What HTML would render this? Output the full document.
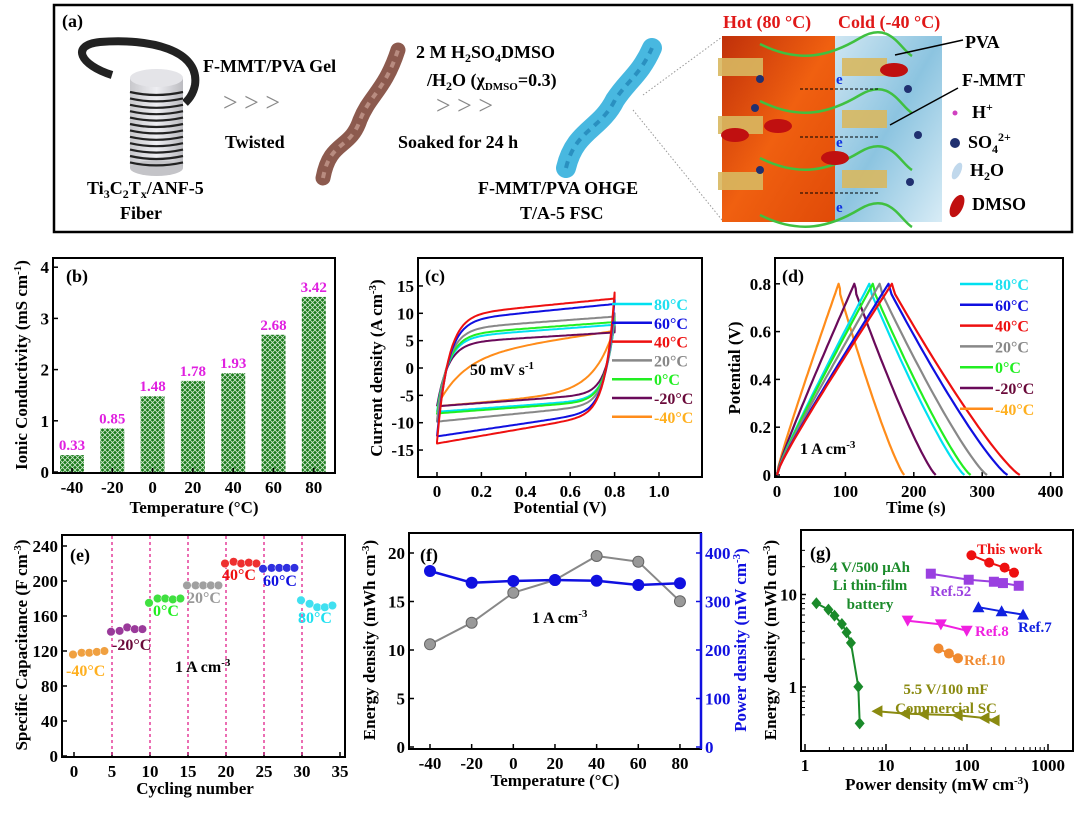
<!DOCTYPE html>
<html><head><meta charset="utf-8">
<style>
html,body{margin:0;padding:0;background:#fff;}
svg text{font-family:"Liberation Serif",serif;font-weight:bold;}
</style></head>
<body>
<svg id="s" width="1079" height="809" viewBox="0 0 1079 809" xmlns="http://www.w3.org/2000/svg">
<defs>
<pattern id="hatch" width="5" height="5" patternUnits="userSpaceOnUse">
<rect width="5" height="5" fill="#197a19"/>
<path d="M0,0L5,5M5,0L0,5" stroke="#cfe8cf" stroke-width="0.8"/>
</pattern>
<linearGradient id="cyl" x1="0" x2="1"><stop offset="0" stop-color="#c8c8cc"/><stop offset="0.5" stop-color="#eeeef2"/><stop offset="1" stop-color="#bbbbc0"/></linearGradient>
<linearGradient id="hot" x1="0" y1="0" x2="1" y2="1"><stop offset="0" stop-color="#c0300a"/><stop offset="0.5" stop-color="#f06010"/><stop offset="1" stop-color="#e04a08"/></linearGradient>
<linearGradient id="cold" x1="0" y1="0" x2="1" y2="1"><stop offset="0" stop-color="#cfe6f2"/><stop offset="0.5" stop-color="#8cc4e0"/><stop offset="1" stop-color="#d8ecf6"/></linearGradient>
</defs>
<!-- panel a -->
<rect x="54" y="5" width="1018" height="227" fill="none" stroke="#000" stroke-width="2.5"/>
<text x="62" y="27" font-size="18">(a)</text>
<path d="M112,75 C80,65 70,45 100,42 C150,38 200,50 195,85 C193,95 188,100 185,103" fill="none" stroke="#222" stroke-width="8"/>
<rect x="130" y="78" width="53" height="90" fill="url(#cyl)"/>
<ellipse cx="156.5" cy="78" rx="26.5" ry="9" fill="#e4e4e8"/>
<ellipse cx="156.5" cy="168" rx="26.5" ry="8" fill="#c4c4c8"/>
<g id="coil" stroke="#222" stroke-width="2.2" fill="none"></g>
<path d="M323,178 C330,140 350,150 360,120 C370,95 385,90 398,50" fill="none" stroke="#8c5a4e" stroke-width="15" stroke-linecap="round"/>
<path d="M323,178 C330,140 350,150 360,120 C370,95 385,90 398,50" fill="none" stroke="#b88c80" stroke-width="4" stroke-dasharray="6 6"/>
<path d="M566,168 C575,130 600,130 615,100 C628,80 640,75 652,48" fill="none" stroke="#48b8e0" stroke-width="20" stroke-linecap="round"/>
<path d="M566,168 C575,130 600,130 615,100 C628,80 640,75 652,48" fill="none" stroke="#2a90c0" stroke-width="4" stroke-dasharray="7 6"/>
<line x1="643" y1="95" x2="722" y2="37" stroke="#999" stroke-dasharray="1.5 2"/>
<line x1="633" y1="110" x2="722" y2="220" stroke="#999" stroke-dasharray="1.5 2"/>
<g font-size="18">
<text x="203" y="72">F-MMT/PVA Gel</text>
<text x="223" y="111" font-size="26" font-weight="normal" fill="#888" style="font-weight:normal">&gt; &gt; &gt;</text>
<text x="225" y="148">Twisted</text>
<text x="87" y="194">Ti<tspan font-size="12" dy="4">3</tspan><tspan dy="-4">C</tspan><tspan font-size="12" dy="4">2</tspan><tspan dy="-4">T</tspan><tspan font-size="12" dy="4">x</tspan><tspan dy="-4">/ANF-5</tspan></text>
<text x="120" y="219">Fiber</text>
<text x="416" y="58">2 M H<tspan font-size="12" dy="4">2</tspan><tspan dy="-4">SO</tspan><tspan font-size="12" dy="4">4</tspan><tspan dy="-4">DMSO</tspan></text>
<text x="427" y="86">/H<tspan font-size="12" dy="4">2</tspan><tspan dy="-4">O (χ</tspan><tspan font-size="11" dy="4">DMSO</tspan><tspan dy="-4">=0.3)</tspan></text>
<text x="436" y="114" font-size="26" fill="#888" style="font-weight:normal">&gt; &gt; &gt;</text>
<text x="398" y="148">Soaked  for 24 h</text>
<text x="478" y="194">F-MMT/PVA OHGE</text>
<text x="520" y="219">T/A-5 FSC</text>
<text x="723" y="28" fill="#e01818">Hot (80 °C)</text>
<text x="838" y="28" fill="#e01818">Cold (-40 °C)</text>
<text x="965" y="48">PVA</text>
<text x="962" y="86">F-MMT</text>
<text x="972" y="118">H<tspan font-size="12" dy="-7">+</tspan></text>
<text x="968" y="148">SO<tspan font-size="12" dy="5">4</tspan><tspan font-size="12" dy="-12">2+</tspan></text>
<text x="970" y="176">H<tspan font-size="12" dy="4">2</tspan><tspan dy="-4">O</tspan></text>
<text x="972" y="210">DMSO</text>
</g>
<rect x="722" y="36" width="113" height="186" fill="url(#hot)"/>
<rect x="835" y="36" width="107" height="186" fill="url(#cold)"/>
<g id="illus"></g>
<circle cx="955" cy="113" r="2.5" fill="#d040c0"/>
<circle cx="955" cy="143" r="5" fill="#203070"/>
<ellipse cx="957" cy="171" rx="4" ry="9" fill="#c0d8ec" transform="rotate(25 957 171)"/>
<ellipse cx="957" cy="206" rx="6" ry="12" fill="#c01010" transform="rotate(25 957 206)"/>
<line x1="895" y1="55" x2="963" y2="40" stroke="#000" stroke-width="1.5"/>
<line x1="890" y1="125" x2="958" y2="88" stroke="#000" stroke-width="1.5"/>
<g id="charts"></g>
</svg>
<script>
var NS="http://www.w3.org/2000/svg";
var root=document.getElementById('charts');
function el(tag,attrs,parent){var e=document.createElementNS(NS,tag);for(var k in attrs)e.setAttribute(k,attrs[k]);(parent||root).appendChild(e);return e;}
function txt(x,y,s,o){o=o||{};var a={x:x,y:y,'font-size':o.fs||17,fill:o.c||'#000'};if(o.a)a['text-anchor']=o.a;if(o.t)a.transform=o.t;var e=el('text',a,o.p);e.innerHTML=s;return e;}
function poly(pts,c,w,p){el('polyline',{points:pts.map(function(q){return q[0].toFixed(1)+','+q[1].toFixed(1)}).join(' '),fill:'none',stroke:c,'stroke-width':w||2,'stroke-linejoin':'round'},p);}
// coil
var coil=document.getElementById('coil');
for(var i=0;i<12;i++){var y=92+i*6.4;el('path',{d:'M130,'+y+' Q156,'+(y+6)+' 183,'+y},coil);}
// illus
var il=document.getElementById('illus');
[[748,68],[872,68],[748,126],[872,120],[748,182],[872,180]].forEach(function(p){el('rect',{x:p[0]-30,y:p[1]-10,width:45,height:18,fill:'#d8b860',opacity:0.9},il);});
for(var k=0;k<4;k++){var y0=44+k*57;el('path',{d:'M760,'+y0+' C800,'+(y0+20)+' 830,'+(y0+12)+' 860,'+(y0-6)+' S900,'+(y0+5)+' 912,'+(y0+12),fill:'none',stroke:'#40c040','stroke-width':2.5},il);}
[[800,89],[800,137],[800,193]].forEach(function(p){el('line',{x1:p[0],y1:p[1],x2:p[0]+78,y2:p[1],stroke:'#000','stroke-dasharray':'3 2'},il);});
[[760,79],[755,108],[760,170],[908,89],[918,135],[910,182]].forEach(function(p){el('circle',{cx:p[0],cy:p[1],r:4,fill:'#203070'},il);});
[[894,70],[835,158],[735,135],[778,126]].forEach(function(p){el('ellipse',{cx:p[0],cy:p[1],rx:14,ry:7,fill:'#c01010'},il);});
txt(836,84,'e',{fs:15,c:'#1030e0',p:il});txt(836,147,'e',{fs:15,c:'#1030e0',p:il});txt(836,212,'e',{fs:15,c:'#1030e0',p:il});
function frame(x0,y0,x1,y1){el('rect',{x:x0,y:y0,width:x1-x0,height:y1-y0,fill:'none',stroke:'#000','stroke-width':2});}
function tickX(x,y,lab,len,c){el('line',{x1:x,y1:y,x2:x,y2:y-(len||5),stroke:c||'#000','stroke-width':1.5});txt(x,y+20,lab,{a:'middle',c:c});}
function tickY(x,y,lab,c,right){el('line',{x1:x,y1:y,x2:right?x-5:x+5,y2:y,stroke:c||'#000','stroke-width':1.5});txt(right?x+4:x-4,y+6,lab,{a:right?'start':'end',c:c});}
var TC={80:'#00e0f0',60:'#1010e0',40:'#ee1010',20:'#888888',0:'#22ee22','-20':'#6a0a5a','-40':'#ff8c1a'};
var TT={80:'#20e0f0',60:'#1010e0',40:'#ee1010',20:'#888888',0:'#22ee22','-20':'#6a0a3a','-40':'#ffb020'};
// ---- (b)
frame(53,258,335,473);
var by=function(v){return 472-v*51.2;};
[0,1,2,3,4].forEach(function(v){tickY(53,by(v),v);});
var bv=[0.33,0.85,1.48,1.78,1.93,2.68,3.42],bl=['-40','-20','0','20','40','60','80'];
bv.forEach(function(v,i){var cx=72+i*40.3;el('rect',{x:cx-12,y:by(v),width:24,height:472-by(v),fill:'url(#hatch)'});txt(cx,by(v)-5,v.toFixed(2),{a:'middle',c:'#e020e0',fs:15});tickX(cx,473,bl[i]);});
txt(66,282,'(b)',{fs:18});
txt(194,513,'Temperature (°C)',{a:'middle'});
txt(27,365,'Ionic Conductivity (mS cm<tspan dy="-6" font-size="11">-1</tspan><tspan dy="6">)</tspan>',{a:'middle',t:'rotate(-90 27 365)'});
// ---- (c)
frame(418,258,702,477);
var cx_=function(v){return 437+v*222;},cy_=function(i){return 368-i*5.47;};
[15,10,5,0,-5,-10,-15].forEach(function(v){tickY(418,cy_(v),v);});
[0,0.2,0.4,0.6,0.8,1.0].forEach(function(v){tickX(cx_(v),477,v==0?'0':v.toFixed(1));});
var cv=[['-40',2,6,-7,-7,3.5,0.12,0.09,7.5],['-20',4.5,2.5,-7,-7,3,0.05,0.04,8.5],[80,5.5,3,-8,-8,3,0.05,0.04,8.8],[0,6,3,-8.5,-8.3,3,0.05,0.04,9.5],[20,7,3,-9.5,-9.8,4,0.05,0.04,10],[60,8.5,4,-12.5,-12.5,6,0.05,0.04,12.5],[40,9.5,4,-13.5,-13.8,7,0.05,0.04,13.8]];
cv.forEach(function(c){var pts=[];for(var v=0;v<=0.8001;v+=0.01){var u=c[1]+c[2]*v-(c[1]-c[3])*Math.exp(-v/c[6]);pts.push([cx_(v),cy_(u)]);}
for(var v=0.8;v>=-0.0001;v-=0.01){var base=c[4]+c[5]*v;var l=base+(c[8]-(c[4]+c[5]*0.8))*Math.exp(-(0.8-v)/c[7]);pts.push([cx_(v),cy_(l)]);}
pts.push(pts[0]);poly(pts,TC[c[0]],2);});
txt(425,282,'(c)',{fs:18});
txt(470,375,'50 mV s<tspan dy="-6" font-size="11">-1</tspan>',{fs:16});
var lg=['80','60','40','20','0','-20','-40'];
lg.forEach(function(t,i){var y=304+i*18.8;el('line',{x1:612,y1:y,x2:652,y2:y,stroke:TC[t],'stroke-width':2.5});txt(654,y+6,t+'°C',{c:TT[t],fs:16});});
txt(560,513,'Potential (V)',{a:'middle'});
txt(382,368,'Current density (A cm<tspan dy="-6" font-size="11">-3</tspan><tspan dy="6">)</tspan>',{a:'middle',t:'rotate(-90 382 368)'});
// ---- (d)
frame(775,258,1063,477);
var dx=function(t){return 777+t*0.684;},dy=function(v){return 475-v*239;};
[[0,'0'],[0.2,'0.2'],[0.4,'0.4'],[0.6,'0.6'],[0.8,'0.8']].forEach(function(q){tickY(775,dy(q[0]),q[1]);});
[0,100,200,300,400].forEach(function(t){tickX(dx(t),477,t);});
var gc=[['-40',90,186],['-20',113,232],[80,135,274],[0,140,283],[20,150,307],[60,163,337],[40,168,355]];
gc.forEach(function(g){var pts=[];var tp=g[1],te=g[2];for(var i=0;i<=40;i++){var f=i/40;pts.push([dx(f*tp),dy(0.8*(0.85*f+0.15*Math.sqrt(f)))]);}
for(var i=0;i<=40;i++){var f=i/40;var v=0.78*Math.pow(1-f,1.2);pts.push([dx(tp+f*(te-tp)+ (i==0?2:0)),dy(v)]);}
poly(pts,TC[g[0]],2.2);});
txt(782,282,'(d)',{fs:18});
txt(800,454,'1 A cm<tspan dy="-6" font-size="11">-3</tspan>',{fs:16});
lg.forEach(function(t,i){var y=284+i*20.8;el('line',{x1:960,y1:y,x2:993,y2:y,stroke:TC[t],'stroke-width':2.5});txt(995,y+6,t+'°C',{c:TT[t],fs:16});});
txt(916,513,'Time (s)',{a:'middle'});
txt(740,368,'Potential (V)',{a:'middle',t:'rotate(-90 740 368)'});
// ---- (e)
frame(62,535,345,757);
var ex=function(n){return 74+n*7.6;},ey=function(v){return 756-v*0.875;};
[0,40,80,120,160,200,240].forEach(function(v){tickY(62,ey(v),v);});
[0,5,10,15,20,25,30,35].forEach(function(n){tickX(ex(n),757,n);});
[5,10,15,20,25,30].forEach(function(n){el('line',{x1:ex(n),y1:536,x2:ex(n),y2:756,stroke:'#e0208a','stroke-dasharray':'3 3','stroke-width':1.3});});
var ed=[['-40',[116,118,118,119,120]],['-20',[142,143,147,145,145]],[0,[175,180,180,179,180]],[20,[195,195,195,195,195]],[40,[220,222,220,221,220]],[60,[214,215,215,215,215]],[80,[178,174,170,170,172]]];
var ecol={'-40':'#f0a040','-20':'#9a3a9a',0:'#40e040',20:'#a0a0a0',40:'#ee3030',60:'#3030e0',80:'#40e0f0'};
ed.forEach(function(s,k){s[1].forEach(function(v,i){var n=k*5+i;el('circle',{cx:ex(n)+(i==0?-1:0),cy:ey(v),r:4.3,fill:ecol[s[0]],stroke:'#fff','stroke-width':0.5});});});
txt(70,561,'(e)',{fs:18});
txt(66,676,'-40°C',{c:'#ffb020',fs:16});
txt(112,650,'-20°C',{c:'#6a0a3a',fs:16});
txt(153,616,'0°C',{c:'#22ee22',fs:16});
txt(187,603,'20°C',{c:'#999',fs:16});
txt(222,580,'40°C',{c:'#ee1010',fs:16});
txt(263,586,'60°C',{c:'#1010e0',fs:16});
txt(298,623,'80°C',{c:'#20e0f0',fs:16});
txt(175,672,'1 A cm<tspan dy="-6" font-size="11">-3</tspan>',{fs:16});
txt(195,794,'Cycling number',{a:'middle'});
txt(27,645,'Specific Capacitance (F cm<tspan dy="-6" font-size="11">-3</tspan><tspan dy="6">)</tspan>',{a:'middle',t:'rotate(-90 27 645)'});
// ---- (f)
el('rect',{x:409,y:533,width:292,height:216,fill:'none',stroke:'#000','stroke-width':2});
el('line',{x1:701,y1:533,x2:701,y2:749,stroke:'#1010e0','stroke-width':2.5});
var fx=function(t){return 430+(t+40)*2.083;},fy=function(v){return 747-v*9.7;};
[0,5,10,15,20].forEach(function(v){tickY(409,fy(v),v);});
[0,100,200,300,400].forEach(function(v){tickY(701,fy(v/20),v,'#1010e0',true);});
[-40,-20,0,20,40,60,80].forEach(function(t){tickX(fx(t),749,t);});
var gy=[644.3,622.7,592.7,580,556,561.7,601.3],byy=[571,582.7,581,580,580.7,585,583.3];
var gp=gy.map(function(y,i){return [fx(-40+20*i),y];}),bp=byy.map(function(y,i){return [fx(-40+20*i),y];});
poly(gp,'#888',2);gp.forEach(function(p){el('circle',{cx:p[0],cy:p[1],r:5.5,fill:'#999',stroke:'#666'});});
poly(bp,'#1010e0',2.5);bp.forEach(function(p){el('circle',{cx:p[0],cy:p[1],r:6,fill:'#1010e0'});});
txt(420,561,'(f)',{fs:18});
txt(532,623,'1 A cm<tspan dy="-6" font-size="11">-3</tspan>',{fs:16});
txt(555,786,'Temperature (°C)',{a:'middle'});
txt(375,640,'Energy density (mWh cm<tspan dy="-6" font-size="11">-3</tspan><tspan dy="6">)</tspan>',{a:'middle',t:'rotate(-90 375 640)'});
txt(746,640,'Power density (mW cm<tspan dy="-6" font-size="11">-3</tspan><tspan dy="6">)</tspan>',{a:'middle',c:'#1010e0',t:'rotate(-90 746 640)'});
// ---- (g)
frame(801,530,1073,751);
var gx=function(p){return 805+Math.log10(p)*81;},gyy=function(e){return 687-Math.log10(e)*92.5;};
[[1,'1'],[10,'10'],[100,'100'],[1000,'1000']].forEach(function(q){tickX(gx(q[0]),751,q[1],7);});
for(var d=1;d<=100;d*=10)for(var m=2;m<10;m++){var x=gx(d*m);el('line',{x1:x,y1:751,x2:x,y2:747,stroke:'#000'});}
[[1,'1'],[10,'10']].forEach(function(q){tickY(801,gyy(q[0]),q[1]);});
[0.5,0.6,0.7,0.8,0.9,2,3,4,5,6,7,8,9,20,30].forEach(function(v){var y=gyy(v);if(y>531&&y<750)el('line',{x1:801,y1:y,x2:805,y2:y,stroke:'#000'});});
function Z(a){return a.map(function(q){return [760+q[0]/2.98,520+q[1]/2.98];});}
function mk(p,shape,c,sz){sz=sz||5;var x=p[0],y=p[1];
if(shape=='c')el('circle',{cx:x,cy:y,r:sz,fill:c});
else if(shape=='s')el('rect',{x:x-sz,y:y-sz,width:2*sz,height:2*sz,fill:c});
else if(shape=='t')el('polygon',{points:[x,y-sz-1,x-sz-1,y+sz,x+sz+1,y+sz].join(' '),fill:c});
else if(shape=='v')el('polygon',{points:[x,y+sz+1,x-sz-1,y-sz,x+sz+1,y-sz].join(' '),fill:c});
else if(shape=='d')el('polygon',{points:[x,y-sz-1,x+sz,y,x,y+sz+1,x-sz,y].join(' '),fill:c});
else if(shape=='l')el('polygon',{points:[x-sz-1,y,x+sz,y-sz-1,x+sz,y+sz+1].join(' '),fill:c});}
var GS=[[[[630,105],[683,127],[729,142],[757,157]],'c','#ee1010'],
[[[509,160],[622,178],[697,184],[724,188],[771,196]],'s','#9a40e0'],
[[[651,260],[720,272],[784,282]],'t','#1020e0'],
[[[440,300],[539,311],[616,330]],'v','#f020e0'],
[[[532,383],[563,398],[590,412]],'c','#f08a30'],
[[[168,248],[204,267],[222,285],[244,310],[258,335],[271,366],[293,497],[297,606]],'d','#1a8a2a'],
[[[350,570],[432,577],[488,579],[589,582],[669,590],[699,597]],'l','#8a8a10']];
GS.forEach(function(s){var p=Z(s[0]);poly(p,s[2],2);p.forEach(function(q){mk(q,s[1],s[2]);});});
txt(810,559,'(g)',{fs:18});
txt(977,554,'This work',{c:'#ee1010',fs:15});
txt(930,596,'Ref.52',{c:'#9a40e0',fs:15});
txt(1018,632,'Ref.7',{c:'#1020e0',fs:15});
txt(975,636,'Ref.8',{c:'#f020e0',fs:15});
txt(964,665,'Ref.10',{c:'#f08a30',fs:15});
txt(870,572,'4 V/500 μAh',{a:'middle',c:'#1a8a2a',fs:15});
txt(870,590,'Li thin-film',{a:'middle',c:'#1a8a2a',fs:15});
txt(870,609,'battery',{a:'middle',c:'#1a8a2a',fs:15});
txt(946,694,'5.5 V/100 mF',{a:'middle',c:'#8a8a10',fs:15});
txt(946,713,'Commercial SC',{a:'middle',c:'#8a8a10',fs:15});
txt(937,790,'Power density (mW cm<tspan dy="-6" font-size="11">-3</tspan><tspan dy="6">)</tspan>',{a:'middle'});
txt(776,640,'Energy density (mWh cm<tspan dy="-6" font-size="11">-3</tspan><tspan dy="6">)</tspan>',{a:'middle',t:'rotate(-90 776 640)'});
</script>
</body></html>
